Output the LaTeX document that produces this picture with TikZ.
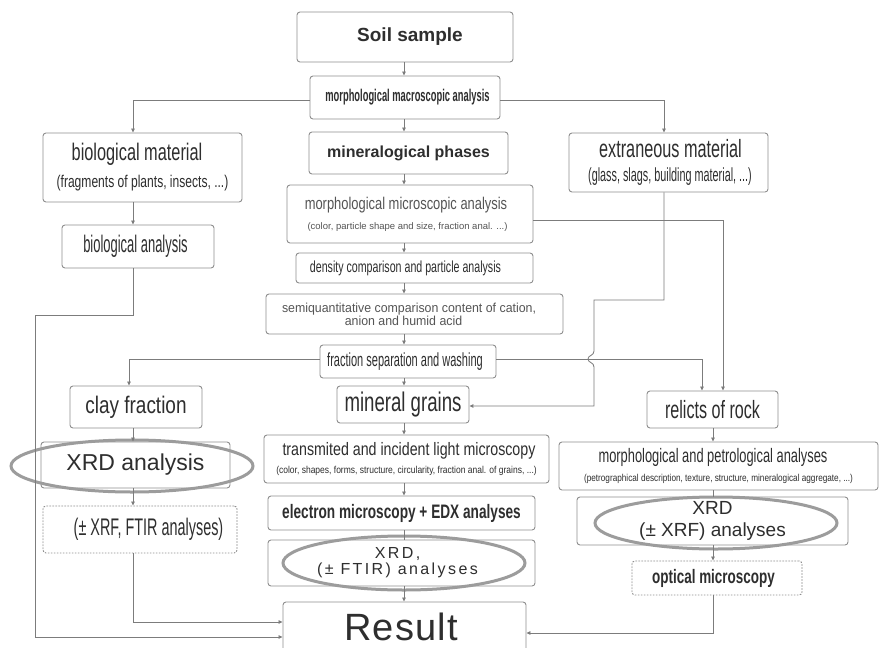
\documentclass[tikz,border=0pt]{standalone}
\usepackage{fontspec}
\setmainfont{Liberation Sans}
\usetikzlibrary{arrows.meta}
\definecolor{txt}{HTML}{2E2E2E}
\definecolor{txtl}{HTML}{555555}
\definecolor{bord}{HTML}{8E8E8E}
\definecolor{lin}{HTML}{7C7C7C}
\definecolor{ell}{HTML}{9C9C9C}
\newcommand\ff[3]{\fontsize{#1}{#2}\selectfont\addfontfeature{FakeStretch=#3}}
\newcommand\sh[1]{\hspace*{#1pt}}
\begin{document}
\begin{tikzpicture}[x=1pt,y=-1pt,
  box/.style={draw=bord, line width=0.9pt, rounded corners=3pt, fill=white, inner sep=0pt, align=center, text=txt},
  dotbox/.style={box, dash pattern=on 1.6pt off 1.4pt},
  lead/.style={font=\fontsize{10}{#1}\selectfont},
  arr/.style={draw=lin, line width=0.8pt, -{Triangle[length=4pt,width=3.5pt]}},
  ln/.style={draw=lin, line width=0.8pt},
  ov/.style={draw=ell, line width=3pt}]
\useasboundingbox[fill=white] (0,0) rectangle (879,648);

% nodes
\node[box,minimum width=216pt,minimum height=50pt] (soil) at (405,37) {\sh{10}\bfseries\ff{19}{22}{1}Soil sample};
\node[box,minimum width=190pt,minimum height=43pt] (macro) at (405,97.5) {\sh{5}\bfseries\ff{17}{19}{0.55}morphological macroscopic analysis};
\node[box,minimum width=199pt,minimum height=42pt] (minph) at (408.5,153) {\bfseries\ff{16}{18}{1}mineralogical phases};
\node[box,lead=27pt,minimum width=199pt,minimum height=69pt] (bio) at (142.5,167.5) {\ff{24}{27}{0.68}biological material\sh{11}\\\ff{17}{27}{0.71}(fragments of plants, insects, ...)};
\node[box,minimum width=152pt,minimum height=43pt] (bioan) at (138,246.5) {\ff{24}{26}{0.54}biological analysis\sh{5}};
\node[box,lead=23.5pt,minimum width=199pt,minimum height=59pt] (extr) at (668.5,162.5) {\sh{4}\ff{25}{23.5}{0.65}extraneous material\\\sh{3}\ff{19}{23.5}{0.57}(glass, slags, building material, ...)};
\node[box,lead=20pt,minimum width=246pt,minimum height=58pt] (micro) at (410,214) {\color{txtl}\ff{17}{20}{0.76}morphological microscopic analysis\sh{8}\\\color{txtl}\ff{9.5}{20}{1}(color, particle shape and size, fraction anal. ...)\sh{5}};
\node[box,minimum width=237pt,minimum height=30pt] (dens) at (414.5,268) {\ff{16}{18}{0.665}density comparison and particle analysis\sh{18}};
\node[box,lead=13pt,minimum width=297pt,minimum height=40pt] (semi) at (414.5,314) {\color{txtl}\ff{13}{13}{0.95}semiquantitative comparison content of cation,\sh{11}\\\color{txtl}\ff{13}{13}{0.95}anion and humid acid\sh{22}};
\node[box,minimum width=176pt,minimum height=33pt] (frac) at (408,361.5) {\ff{19}{21}{0.58}fraction separation and washing\sh{6}};
\node[box,minimum width=132pt,minimum height=37pt] (grains) at (403,404.5) {\ff{27}{29}{0.69}mineral grains};
\node[box,minimum width=132pt,minimum height=42pt] (clay) at (136,407) {\ff{24}{26}{0.79}clay fraction};
\node[box,minimum width=189pt,minimum height=46pt] (xrdL) at (135.5,465) {\ff{23}{25}{1}XRD analysis};
\node[dotbox,minimum width=194pt,minimum height=47pt] (xrf) at (140,529.5) {\sh{17}\ff{24}{26}{0.6}(± XRF, FTIR analyses)};
\node[box,lead=18pt,minimum width=285pt,minimum height=48pt] (trans) at (406.5,459) {\sh{5}\ff{18}{18}{0.79}transmited and incident light microscopy\\\ff{10}{18}{0.85}(color, shapes, forms, structure, circularity, fraction anal. of grains, ...)};
\node[box,minimum width=267pt,minimum height=34pt] (elec) at (401.5,513) {\bfseries\ff{19.5}{21}{0.70}electron microscopy + EDX analyses};
\node[box,lead=16pt,minimum width=267pt,minimum height=46pt] (xrdC) at (401.5,563) {\ff{16}{16}{1}\addfontfeature{LetterSpace=15}XRD,\sh{8}\\\ff{16}{16}{1}\addfontfeature{LetterSpace=15}(± FTIR) analyses\sh{8}};
\node[box,minimum width=243pt,minimum height=50pt] (res) at (404.5,627) {\ff{38}{40}{1}\addfontfeature{LetterSpace=3}Result\sh{7}};
\node[box,minimum width=131pt,minimum height=37pt] (rel) at (712.5,409.5) {\ff{25}{27}{0.645}relicts of rock};
\node[box,lead=18.5pt,minimum width=319pt,minimum height=48pt] (petro) at (718.5,466) {\ff{19.5}{18.5}{0.66}morphological and petrological analyses\sh{11}\\\ff{10}{18.5}{0.82}(petrographical description, texture, structure, mineralogical aggregate, ...)};
\node[box,lead=22pt,minimum width=271pt,minimum height=48pt] (xrdR) at (712.5,521) {\ff{19}{22}{1}XRD\\\ff{19}{22}{1}(± XRF) analyses};
\node[dotbox,minimum width=170pt,minimum height=34pt] (opt) at (717,578) {\bfseries\ff{19.5}{21}{0.69}optical microscopy\sh{7}};

% ellipses
\draw[ov] (132,466) ellipse [x radius=121pt, y radius=26pt];
\draw[ov] (404,563) ellipse [x radius=121pt, y radius=27pt];
\draw[ov] (716,523) ellipse [x radius=121pt, y radius=26pt];

% helper coordinates
\coordinate (cC) at (404,0);
\coordinate (cL) at (133,0);
\coordinate (cLL) at (129,0);
\coordinate (cR) at (713,0);
\coordinate (eX) at (664,0);
\coordinate (rX1) at (702,0);
\coordinate (rX2) at (723,0);
\coordinate (yMac) at (0,100);
\coordinate (yF) at (0,359);
\coordinate (yM) at (0,220);
\coordinate (yG) at (0,406);
\coordinate (yB1) at (0,637);
\coordinate (yB2) at (0,622);
\coordinate (yB3) at (0,633);
\coordinate (p2) at (35,315);
\coordinate (q1) at (594,300);
\coordinate (b1) at (594,351);
\coordinate (b2) at (588,359);
\coordinate (b3) at (594,367);

% centre column
\draw[arr] (soil.south -| cC) -- (macro.north -| cC);
\draw[arr] (macro.south -| cC) -- (minph.north -| cC);
\draw[arr] (minph.south -| cC) -- (micro.north -| cC);
\draw[arr] (micro.south -| cC) -- (dens.north -| cC);
\draw[arr] (dens.south -| cC) -- (semi.north -| cC);
\draw[arr] (semi.south -| cC) -- (frac.north -| cC);
\draw[arr] (frac.south -| cC) -- (grains.north -| cC);
\draw[arr] (grains.south -| cC) -- (trans.north -| cC);
\draw[arr] (trans.south -| cC) -- (elec.north -| cC);
\draw[ln] (elec.south -| cC) -- (xrdC.north -| cC);
\draw[arr] (xrdC.south -| cC) -- (res.north -| cC);

% branches from macroscopic analysis
\draw[arr] (macro.west |- yMac) -| (bio.north -| cL);
\draw[arr] (macro.east |- yMac) -| (extr.north -| eX);

% biological column
\draw[arr] (bio.south -| cL) -- (bioan.north -| cL);
\draw[arr] (bioan.south -| cL) |- (p2) |- (res.west |- yB1);

% extraneous material to mineral grains (with bridge)
\draw[arr] (extr.south -| eX) |- (q1) -- (b1) .. controls (594,356) and (588,355) .. (b2) .. controls (588,363) and (594,362) .. (b3) |- (grains.east |- yG);

% micro analysis and fraction to relicts
\draw[arr] (micro.east |- yM) -| (rel.north -| rX2);
\draw[arr] (frac.east |- yF) -| (rel.north -| rX1);
\draw[arr] (frac.west |- yF) -| (clay.north -| cLL);

% clay column
\draw[arr] (clay.south -| cL) -- (xrdL.north -| cL);
\draw[arr] (xrdL.south -| cL) -- (xrf.north -| cL);
\draw[arr] (xrf.south -| cL) |- (res.west |- yB2);

% rock column
\draw[arr] (rel.south -| cR) -- (petro.north -| cR);
\draw[ln] (petro.south -| cR) -- (xrdR.north -| cR);
\draw[arr] (xrdR.south -| cR) -- (opt.north -| cR);
\draw[arr] (opt.south -| cR) |- (res.east |- yB3);
\end{tikzpicture}
\end{document}
